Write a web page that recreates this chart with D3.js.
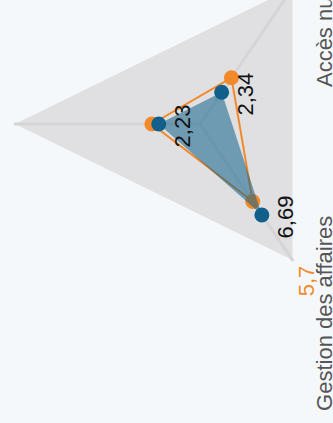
<!DOCTYPE html>
<html><head><meta charset="utf-8">
<script src="https://cdn.jsdelivr.net/npm/d3@7"></script>
<style>html,body{margin:0;padding:0;background:#f5f8fa;overflow:hidden}svg{display:block}</style>
</head><body>
<svg id="c" width="333" height="423"></svg>
<script>
// Data
const categories = ["", "Accès numérique", "Gestion des affaires"];
const seriesOrange = [2.6, 3.4, 5.7];
const seriesBlue = [2.23, 2.34, 6.69];
const maxValue = 10;
const orangeLabelIndex = [2];   // which orange values are labelled
const blueLabelIndex = [0, 1, 2];

const fmt = v => String(v).replace(".", ",");

const svg = d3.select("#c");
const cx = 200, cy = 124;
const rY = 185, rX = 157;

const r = d3.scaleLinear().domain([0, maxValue]).range([0, 1]);
const angle = d3.scaleLinear().domain([0, categories.length]).range([0, 2 * Math.PI]);
const pt = (i, v) => [rX * r(v) * Math.sin(angle(i)), -rY * r(v) * Math.cos(angle(i))];

const g = svg.append("g").attr("transform", `translate(${cx},${cy}) rotate(-90)`);
const line = d3.line().curve(d3.curveLinearClosed);

// grid
g.append("path").attr("d", line(categories.map((c, i) => pt(i, maxValue))))
  .attr("fill", "#e0e0e2");
g.selectAll("line.axis").data(categories).join("line").attr("class", "axis")
  .attr("x1", 0).attr("y1", 0)
  .attr("x2", (c, i) => pt(i, maxValue)[0]).attr("y2", (c, i) => pt(i, maxValue)[1])
  .attr("stroke", "#d5d5d7").attr("stroke-width", 3).attr("stroke-linecap", "round");

// orange series
const orange = "#f28a2c", blue = "#10608b";
g.append("path").attr("d", line(seriesOrange.map((v, i) => pt(i, v))))
  .attr("fill", "none").attr("stroke", orange).attr("stroke-width", 2);
g.selectAll("circle.o").data(seriesOrange).join("circle").attr("class", "o")
  .attr("cx", (v, i) => pt(i, v)[0]).attr("cy", (v, i) => pt(i, v)[1])
  .attr("r", 7.5).attr("fill", orange);

// blue series
g.append("path").attr("d", line(seriesBlue.map((v, i) => pt(i, v))))
  .attr("fill", blue).attr("fill-opacity", 0.55);
g.selectAll("circle.b").data(seriesBlue).join("circle").attr("class", "b")
  .attr("cx", (v, i) => pt(i, v)[0]).attr("cy", (v, i) => pt(i, v)[1])
  .attr("r", 7.5).attr("fill", blue);

const font = "'Liberation Sans', Arial, sans-serif";
// value labels
g.selectAll("text.bl").data(blueLabelIndex).join("text").attr("class", "bl")
  .attr("x", i => pt(i, seriesBlue[i])[0] - 2)
  .attr("y", i => pt(i, seriesBlue[i])[1] + 31)
  .attr("text-anchor", "middle").attr("font-family", font).attr("font-size", 22)
  .attr("fill", "#111").text(i => fmt(seriesBlue[i]));
g.selectAll("text.ol").data(orangeLabelIndex).join("text").attr("class", "ol")
  .attr("x", i => pt(i, maxValue)[0] - 21)
  .attr("y", i => pt(i, maxValue)[1] + 21)
  .attr("text-anchor", "middle").attr("font-family", font).attr("font-size", 22)
  .attr("fill", orange).text(i => fmt(seriesOrange[i]));

// axis labels
const labelShift = {1: -99, 2: -151};
g.selectAll("text.cat").data(categories.map((c, i) => i).filter(i => categories[i]))
  .join("text").attr("class", "cat")
  .attr("x", i => pt(i, maxValue)[0] + labelShift[i])
  .attr("y", i => pt(i, maxValue)[1] + 39)
  .attr("text-anchor", "start").attr("font-family", font).attr("font-size", 22)
  .attr("fill", "#555").text(i => categories[i]);
</script>
</body></html>
